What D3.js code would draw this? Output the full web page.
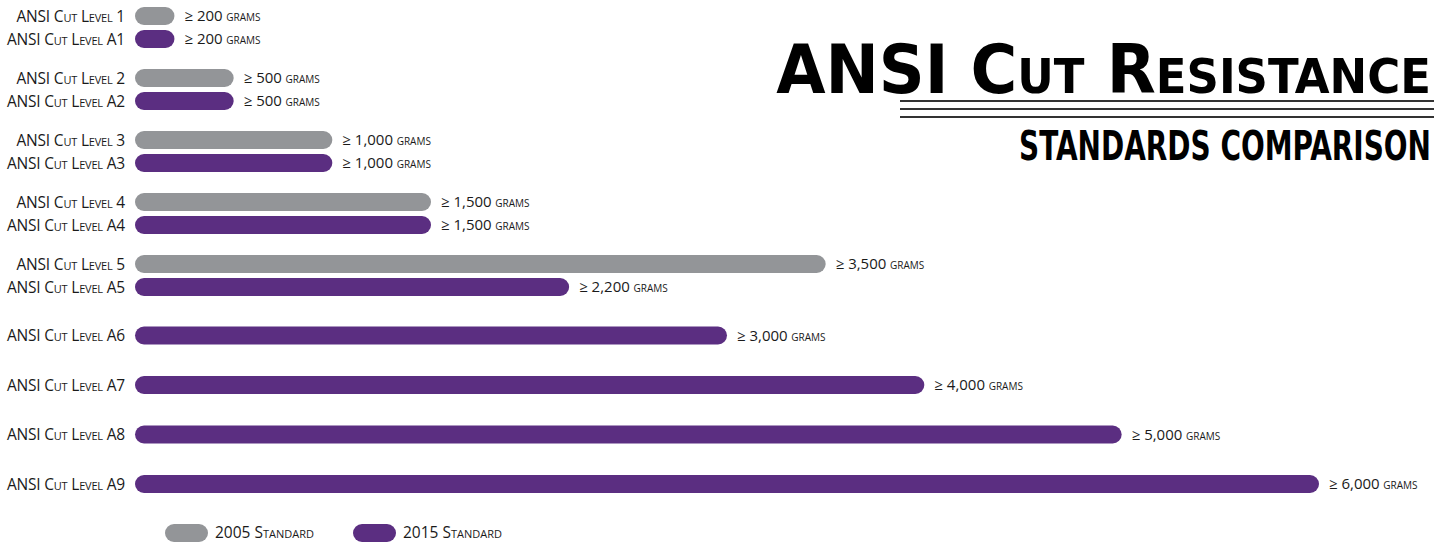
<!DOCTYPE html>
<html>
<head>
<meta charset="utf-8">
<script src="https://cdn.jsdelivr.net/npm/d3@7"></script>
<style>
  body { margin: 0; background: #fff; }
  text { font-family: "Open Sans", sans-serif; }
</style>
</head>
<body>
<div id="chart"></div>
<script>
// data
let levels = ["1", "A1", "2", "A2", "3", "A3", "4", "A4", "5", "A5", "A6", "A7", "A8", "A9"];
let standards = ["2005", "2015", "2005", "2015", "2005", "2015", "2005", "2015", "2005", "2015", "2015", "2015", "2015", "2015"];
let grams = [200, 200, 500, 500, 1000, 1000, 1500, 1500, 3500, 2200, 3000, 4000, 5000, 6000];
let legendLabels = ["2005 Standard", "2015 Standard"];
let legendKeys = ["2005", "2015"];

let svgWidth = 1434;
let svgHeight = 542;
let barLeft = 135;
let barH = 18;

let colour = d3.scaleOrdinal()
  .domain(["2005", "2015"])
  .range(["#939598", "#5b2e81"]);

let rows = levels.map((l, i) => ({ level: l, std: standards[i], value: grams[i] }));

// vertical layout: pairs share a level number, singles get more room
let y = 16;
rows.forEach((r, i) => {
  if (i > 0) {
    let prev = rows[i - 1];
    if (r.std == "2015" && prev.std == "2005") y += 23;
    else if (prev.level == "A5" || r.std == "2005") y += 39;
    else y += 49.5;
    if (r.level == "A6") y += 9.5;
  }
  r.y = y;
});

let x = d3.scaleLinear()
  .domain([0, 6000])
  .range([0, 1184]);

let svg = d3.select("#chart")
  .append("svg")
  .attr("width", svgWidth)
  .attr("height", svgHeight);

let chartGroup = svg.append("g")
  .attr("transform", `translate(${barLeft}, 0)`);

//bars
chartGroup.selectAll(".bar")
  .data(rows)
  .enter()
  .append("rect")
  .attr("class", "bar")
  .attr("x", 0)
  .attr("y", d => d.y - barH / 2)
  .attr("width", d => x(d.value))
  .attr("height", barH)
  .attr("rx", barH / 2)
  .attr("fill", d => colour(d.std));

//category labels
chartGroup.selectAll(".lbl")
  .data(rows)
  .enter()
  .append("text")
  .attr("class", "lbl")
  .attr("x", -10)
  .attr("y", d => d.y)
  .attr("dy", "0.36em")
  .attr("text-anchor", "end")
  .style("font-size", "15.5px")
  .style("font-variant", "small-caps")
  .style("letter-spacing", "-0.2px")
  .attr("fill", "#1a1a1a")
  .text(d => "ANSI Cut Level " + d.level);

//value labels
let vl = chartGroup.selectAll(".val")
  .data(rows)
  .enter()
  .append("text")
  .attr("class", "val")
  .attr("x", d => x(d.value) + 10)
  .attr("y", d => d.y)
  .attr("dy", "0.36em")
  .style("font-size", "15px")
  .attr("fill", "#1a1a1a");
vl.append("tspan").text(d => "\u2265 " + d3.format(",")(d.value));
vl.append("tspan")
  .style("font-variant", "small-caps")
  .style("font-size", "14px")
  .text(" grams");

// stretch/squeeze a heading horizontally to a given width, right aligned
function fitText(txt, right, base, width) {
  let w = txt.node().getComputedTextLength();
  let k = width / w;
  txt.attr("transform", `translate(${right}, ${base}) scale(${k}, 1)`);
}

//title
let title = svg.append("text")
  .attr("text-anchor", "end")
  .style("font-family", "'DejaVu Sans Condensed', 'DejaVu Sans', sans-serif")
  .style("font-weight", "bold")
  .style("font-size", "68px")
  .style("font-variant", "small-caps")
  .attr("fill", "#000")
  .text("ANSI Cut Resistance");
fitText(title, 1431, 93, 655);

[101, 109, 117].forEach(ly => {
  svg.append("line")
    .attr("x1", 900).attr("x2", 1434)
    .attr("y1", ly).attr("y2", ly)
    .attr("stroke", "#333")
    .attr("stroke-width", 2);
});

let sub = svg.append("text")
  .attr("text-anchor", "end")
  .style("font-family", "'DejaVu Sans Condensed', 'DejaVu Sans', sans-serif")
  .style("font-weight", "bold")
  .style("font-size", "40px")
  .attr("fill", "#000")
  .text("STANDARDS COMPARISON");
fitText(sub, 1431, 160, 412);

//legend
let legend = svg.append("g")
  .attr("transform", "translate(165, 532)");
let item = legend.selectAll(".leg")
  .data(legendKeys)
  .enter()
  .append("g")
  .attr("class", "leg")
  .attr("transform", (d, i) => `translate(${i * 188}, 0)`);
item.append("rect")
  .attr("x", 0).attr("y", -barH / 2 + 1)
  .attr("width", 43).attr("height", barH)
  .attr("rx", barH / 2)
  .attr("fill", d => colour(d));
item.append("text")
  .attr("x", 50)
  .attr("dy", "0.36em")
  .style("font-size", "15.5px")
  .style("font-variant", "small-caps")
  .attr("fill", "#1a1a1a")
  .text((d, i) => legendLabels[i]);
</script>
</body>
</html>
